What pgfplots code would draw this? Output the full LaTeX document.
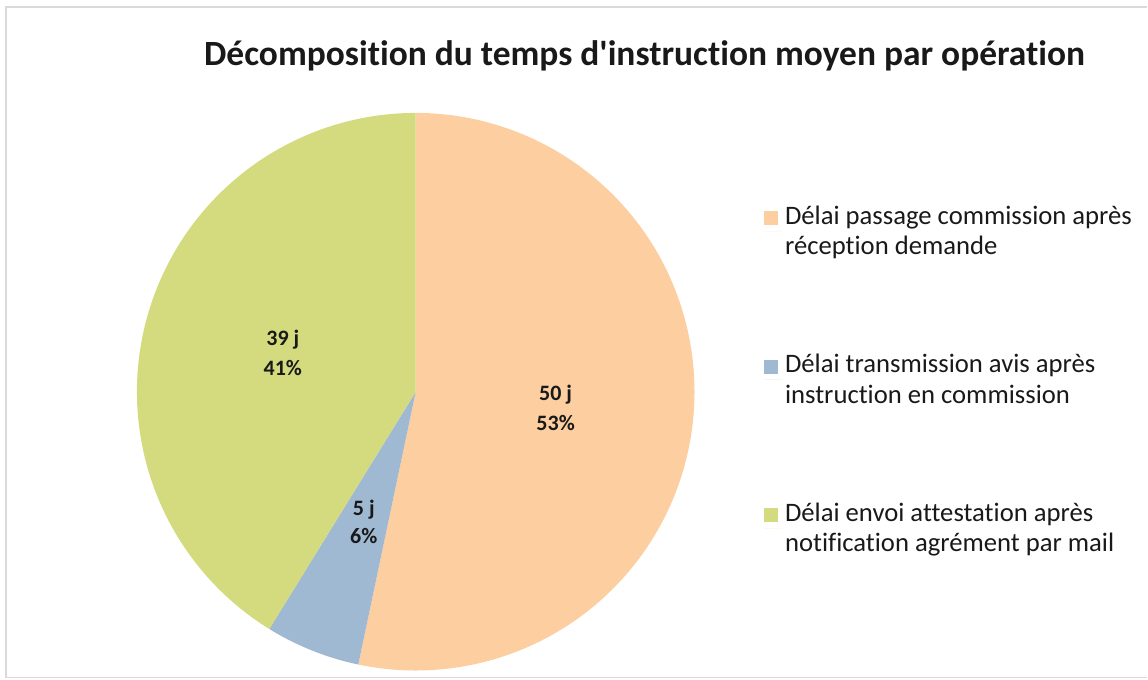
\documentclass[border=0pt]{standalone}
\usepackage{pgfplots}
\usepackage{pgfplotstable}
\pgfplotsset{compat=1.18}
\usepackage{fontspec}
\setmainfont{Carlito}[Ligatures={TeXOff,NoCommon}]
\definecolor{cOrange}{RGB}{252,206,160}
\definecolor{cBlue}{RGB}{160,185,210}
\definecolor{cGreen}{RGB}{212,219,126}
\definecolor{cText}{RGB}{25,25,25}
\definecolor{cFrame}{RGB}{218,218,218}

% share of each slice (percent) and days
\pgfplotstableread{
share days
53.3 50
5.5 5
41.2 39
}\piedata
\pgfplotstablegetelem{0}{share}\of\piedata \let\sA\pgfplotsretval
\pgfplotstablegetelem{1}{share}\of\piedata \let\sB\pgfplotsretval
\pgfplotstablegetelem{2}{share}\of\piedata \let\sC\pgfplotsretval
\pgfmathsetmacro{\aZ}{90}
\pgfmathsetmacro{\aA}{\aZ-3.6*\sA}
\pgfmathsetmacro{\aB}{\aA-3.6*\sB}
\pgfmathsetmacro{\aC}{\aB-3.6*\sC}
\def\cx{416}
\def\cy{288}
\def\rr{279}

\begin{document}
\begin{tikzpicture}
\begin{axis}[
  scale only axis,
  width=861pt, height=510pt,
  xmin=0, xmax=1148, ymin=0, ymax=680,
  hide axis,
  clip=false,
  legend style={at={(axis cs:764,477)}, anchor=north west, draw=none, fill=none,
    font=\fontsize{20pt}{23pt}\selectfont\color{cText},
    row sep=69pt, inner sep=0pt,
    nodes={align=left, inner sep=2pt}},
  legend cell align=left,
  legend image code/.code={\path (0pt,0pt) -- (14pt,0pt);\fill[#1] (0pt,4.5pt) rectangle (10.5pt,15pt);},
]
\path (axis cs:0,0) rectangle (axis cs:1148,680);
\draw[cFrame, line width=1.2pt] (axis cs:1148,673) -- (axis cs:6,673) -- (axis cs:6,2) -- (axis cs:1148,2);

\addplot[draw=none, fill=cOrange, domain=\aZ:\aA, samples=150, variable=\t]
  ({\cx+\rr*cos(\t)}, {\cy+\rr*sin(\t)}) -- (axis cs:\cx,\cy) -- cycle;
\addlegendentry{Délai passage commission après\\réception demande}
\addplot[draw=none, fill=cBlue, domain=\aA:\aB, samples=30, variable=\t]
  ({\cx+\rr*cos(\t)}, {\cy+\rr*sin(\t)}) -- (axis cs:\cx,\cy) -- cycle;
\addlegendentry{Délai transmission avis après\\instruction en commission}
\addplot[draw=none, fill=cGreen, domain=\aB:\aC, samples=150, variable=\t]
  ({\cx+\rr*cos(\t)}, {\cy+\rr*sin(\t)}) -- (axis cs:\cx,\cy) -- cycle;
\addlegendentry{Délai envoi attestation après\\notification agrément par mail}

\node[anchor=base, font=\fontsize{26.6pt}{30pt}\selectfont\bfseries, text=cText]
  at (axis cs:645,614) {Décomposition du temps d'instruction moyen par opération};

\begin{scope}[every node/.style={font=\fontsize{16.5pt}{22pt}\selectfont\bfseries, text=cText, anchor=base}]
\node at (axis cs:283,334) {39 j};
\node at (axis cs:283,304) {41\%};
\node at (axis cs:556,279) {50 j};
\node at (axis cs:556,249) {53\%};
\node at (axis cs:364,164) {5 j};
\node at (axis cs:364,136) {6\%};
\end{scope}
\end{axis}
\end{tikzpicture}
\end{document}
